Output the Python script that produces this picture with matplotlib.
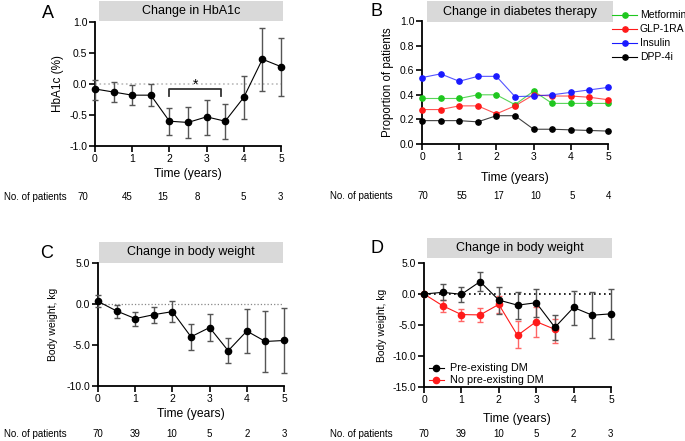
import matplotlib
matplotlib.use("Agg")
import matplotlib.pyplot as plt
from matplotlib.patches import Rectangle
from matplotlib.lines import Line2D

plt.rcParams['font.family'] = ['Liberation Sans', 'DejaVu Sans']

W, H = 685, 441

# --- data ---
years = [0, 0.5, 1, 1.5, 2, 2.5, 3, 3.5, 4, 4.5, 5]

hba1c = [-0.08, -0.13, -0.18, -0.18, -0.60, -0.62, -0.53, -0.60, -0.215, 0.40, 0.28]
hba1c_hi = [0.065, 0.03, -0.02, 0.005, -0.38, -0.37, -0.25, -0.32, 0.13, 0.91, 0.75]
hba1c_lo = [-0.25, -0.29, -0.34, -0.36, -0.82, -0.87, -0.82, -0.88, -0.57, -0.11, -0.19]
n_hba1c = ["70", "45", "15", "8", "5", "3"]

metformin = [0.37, 0.37, 0.37, 0.40, 0.40, 0.32, 0.43, 0.33, 0.33, 0.33, 0.33]
glp1ra = [0.28, 0.28, 0.31, 0.31, 0.245, 0.31, 0.40, 0.39, 0.39, 0.38, 0.36]
insulin = [0.54, 0.57, 0.51, 0.55, 0.55, 0.385, 0.39, 0.40, 0.42, 0.44, 0.46]
dpp4i = [0.19, 0.19, 0.19, 0.18, 0.23, 0.23, 0.12, 0.12, 0.115, 0.11, 0.105]
n_therapy = ["70", "55", "17", "10", "5", "4"]

weight = [0.32, -0.85, -1.78, -1.3, -0.93, -4.0, -2.87, -5.7, -3.3, -4.57, -4.45]
weight_hi = [1.1, -0.08, -0.97, -0.36, 0.32, -2.47, -1.2, -4.17, -0.6, -0.89, -0.49]
weight_lo = [-0.4, -1.7, -2.67, -2.3, -2.19, -5.55, -4.57, -7.25, -6.0, -8.26, -8.4]
n_weight = ["70", "39", "10", "5", "2", "3"]

pre_dm = [0.0, 0.27, -0.05, 2.0, -0.98, -1.8, -1.41, -5.38, -2.17, -3.42, -3.2]
pre_dm_hi = [0.0, 1.58, 1.14, 3.53, 1.09, 0.38, 0.87, -3.42, 0.54, 0.27, 0.76]
pre_dm_lo = [0.0, -0.98, -1.25, 0.49, -3.15, -4.08, -3.7, -7.45, -4.95, -7.12, -7.23]
years_no = [0, 0.5, 1, 1.5, 2, 2.5, 3, 3.5]
no_dm = [0.0, -1.9, -3.32, -3.37, -1.68, -6.68, -4.46, -5.7]
no_dm_hi = [0.0, -0.98, -2.34, -2.23, -0.35, -4.4, -2.17, -3.97]
no_dm_lo = [0.0, -2.88, -4.29, -4.46, -3.0, -8.75, -6.96, -7.88]
n_weight_d = ["70", "39", "10", "5", "2", "3"]

fig = plt.figure(figsize=(W / 100, H / 100), dpi=100)

TICK_FS = 7.5
COUNT_FS = 7


def px_axes(x0, x1, y0, y1):
    return fig.add_axes([x0 / W, 1 - y1 / H, (x1 - x0) / W, (y1 - y0) / H])


def ftext(x, y, s, **kw):
    fig.text(x / W, 1 - y / H, s, **kw)


def style(ax, ylim, yticks):
    ax.set_xlim(0, 5)
    ax.set_ylim(*ylim)
    ax.set_xticks(range(6))
    ax.set_yticks(yticks)
    ax.set_yticklabels([f"{t:.1f}" for t in yticks])
    for s in ("top", "right"):
        ax.spines[s].set_visible(False)
    for s in ("left", "bottom"):
        ax.spines[s].set_linewidth(1.3)
    ax.tick_params(direction="out", length=4, width=1.2, labelsize=TICK_FS, pad=1.5)
    ax.patch.set_alpha(0)


def title_box(x0, x1, y0, y1, text):
    fig.patches.append(Rectangle((x0 / W, 1 - y1 / H), (x1 - x0) / W, (y1 - y0) / H,
                                 transform=fig.transFigure, facecolor="#d9d9d9",
                                 edgecolor="none", zorder=0))
    ftext((x0 + x1) / 2, (y0 + y1) / 2, text, ha="center", va="center", fontsize=9)


def err(ax, x, y, lo, hi, color, ecolor, lw=0.8):
    yerr = [[a - b for a, b in zip(y, lo)], [b - a for a, b in zip(y, hi)]]
    ax.errorbar(x, y, yerr=yerr, fmt="o", color=color, ecolor=ecolor, elinewidth=1.0,
                capsize=2.3, capthick=1.0, markersize=4.5, zorder=3, clip_on=False,
                linestyle="-", linewidth=lw)


# --- A ---
axA = px_axes(95, 281, 22, 146)
style(axA, (-1, 1), [-1.0, -0.5, 0.0, 0.5, 1.0])
axA.axhline(0, color="#bbbbbb", linestyle=":", linewidth=1.2, zorder=1)
err(axA, years, hba1c, hba1c_lo, hba1c_hi, "black", "#555555")
axA.plot([2, 2, 3.39, 3.39], [-0.19, -0.08, -0.08, -0.19], color="#333333", linewidth=1.3)
axA.text(2.69, -0.02, "*", ha="center", va="center", fontsize=10)
axA.set_ylabel("HbA1c (%)", fontsize=8.5, labelpad=4)
title_box(99, 283, 1, 21, "Change in HbA1c")
ftext(48, 13, "A", fontsize=13, ha="center", va="center")
ftext(188, 174, "Time (years)", fontsize=8.7, ha="center", va="center")
ftext(4, 197, "No. of patients", fontsize=COUNT_FS, ha="left", va="center")
for xp, s in zip([83, 127, 163, 197, 243, 280], n_hba1c):
    ftext(xp, 197, s, fontsize=COUNT_FS, ha="center", va="center")

# --- B ---
axB = px_axes(422, 608, 21, 144)
style(axB, (0, 1), [0.0, 0.2, 0.4, 0.6, 0.8, 1.0])
series = [("Metformin", metformin, "#1fc71f"), ("GLP-1RA", glp1ra, "#ff1a1a"),
          ("Insulin", insulin, "#1a1aff"), ("DPP-4i", dpp4i, "black")]
for name, vals, c in series:
    axB.plot(years, vals, "-", color=c, linewidth=0.8, alpha=0.75, zorder=2, clip_on=False)
    axB.plot(years, vals, "o", color=c, markersize=3.8, zorder=3, clip_on=False)
axB.set_ylabel("Proportion of patients", fontsize=8.3, labelpad=4)
title_box(427, 613, 1, 22, "Change in diabetes therapy")
ftext(377, 12, "B", fontsize=13, ha="center", va="center")
ftext(515, 178, "Time (years)", fontsize=8.7, ha="center", va="center")
ftext(330, 196, "No. of patients", fontsize=COUNT_FS, ha="left", va="center")
for xp, s in zip([423, 462, 499, 536, 572, 609], n_therapy):
    ftext(xp, 196, s, fontsize=COUNT_FS, ha="center", va="center")
for i, (name, vals, c) in enumerate(series):
    yy = 15 + 14 * i
    fig.add_artist(Line2D([612 / W, 637 / W], [1 - yy / H, 1 - yy / H], color=c,
                          linewidth=0.8))
    fig.add_artist(Line2D([625 / W], [1 - yy / H], color=c, marker="o", markersize=3.8))
    ftext(640, yy, name, fontsize=7.5, ha="left", va="center")

# --- C ---
axC = px_axes(98, 284, 263, 386)
style(axC, (-10, 5), [-10.0, -5.0, 0.0, 5.0])
axC.axhline(0, color="#888888", linestyle=":", linewidth=0.9, zorder=1)
err(axC, years, weight, weight_lo, weight_hi, "black", "#555555")
axC.set_ylabel("Body weight, kg", fontsize=7.5, labelpad=6)
title_box(99, 283, 242, 263, "Change in body weight")
ftext(47, 253, "C", fontsize=13, ha="center", va="center")
ftext(191, 414, "Time (years)", fontsize=8.7, ha="center", va="center")
ftext(4, 434, "No. of patients", fontsize=COUNT_FS, ha="left", va="center")
for xp, s in zip([98, 135, 172, 209, 247, 284], n_weight):
    ftext(xp, 434, s, fontsize=COUNT_FS, ha="center", va="center")

# --- D ---
axD = px_axes(424, 611, 263, 387)
style(axD, (-15, 5), [-15.0, -10.0, -5.0, 0.0, 5.0])
axD.axhline(0, color="black", linestyle=(0, (1, 2)), linewidth=1.2, zorder=1)
err(axD, years_no, no_dm, no_dm_lo, no_dm_hi, "#ff1a1a", "#ff6666")
err(axD, years, pre_dm, pre_dm_lo, pre_dm_hi, "black", "#555555")
axD.set_ylabel("Body weight, kg", fontsize=7.5, labelpad=4)
title_box(427, 612, 238, 258, "Change in body weight")
ftext(377, 249, "D", fontsize=13, ha="center", va="center")
ftext(517, 419, "Time (years)", fontsize=8.7, ha="center", va="center")
ftext(330, 434, "No. of patients", fontsize=COUNT_FS, ha="left", va="center")
for xp, s in zip([424, 461, 499, 536, 573, 610], n_weight_d):
    ftext(xp, 434, s, fontsize=COUNT_FS, ha="center", va="center")
for yy, c, lab in [(368, "black", "Pre-existing DM"), (380, "#ff1a1a", "No pre-existing DM")]:
    fig.add_artist(Line2D([429 / W, 444 / W], [1 - yy / H, 1 - yy / H], color=c, linewidth=0.8))
    fig.add_artist(Line2D([436 / W], [1 - yy / H], color=c, marker="o", markersize=4.5))
    ftext(450, yy, lab, fontsize=7.8, ha="left", va="center")

fig.savefig("out.png", dpi=100)
